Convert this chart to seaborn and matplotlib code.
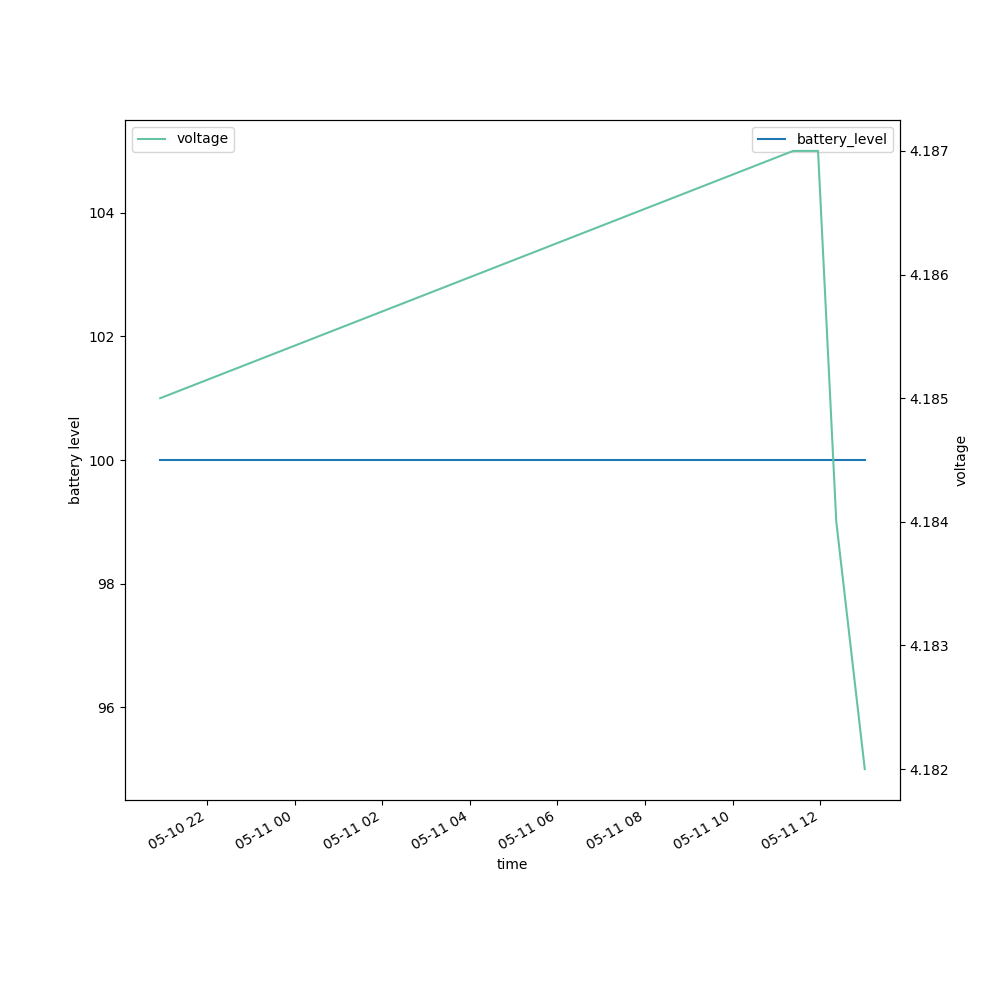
import matplotlib
matplotlib.use("Agg")
import matplotlib.pyplot as plt
import seaborn as sns
import pandas as pd

times = ["2024-05-10 20:56", "2024-05-11 11:23", "2024-05-11 11:57",
         "2024-05-11 12:22", "2024-05-11 13:01"]
battery_level = [100, 100, 100, 100, 100]
voltage = [4.185, 4.187, 4.187, 4.184, 4.182]

df = pd.DataFrame({"time": pd.to_datetime(times),
                   "battery_level": battery_level,
                   "voltage": voltage})

fig, ax = plt.subplots(figsize=(10, 10), dpi=100)
sns.lineplot(data=df, x="time", y="battery_level", ax=ax,
             color="#1f77b4", label="battery_level")
ax.set_ylabel("battery level")
ax.legend(loc="upper right")

ax2 = ax.twinx()
sns.lineplot(data=df, x="time", y="voltage", ax=ax2,
             color=sns.color_palette("Set2")[0], label="voltage")
ax2.set_ylabel("voltage")
ax2.legend(loc="upper left")

ax.set_xlabel("time")
fig.autofmt_xdate()
fig.savefig("out.png", dpi=100)
